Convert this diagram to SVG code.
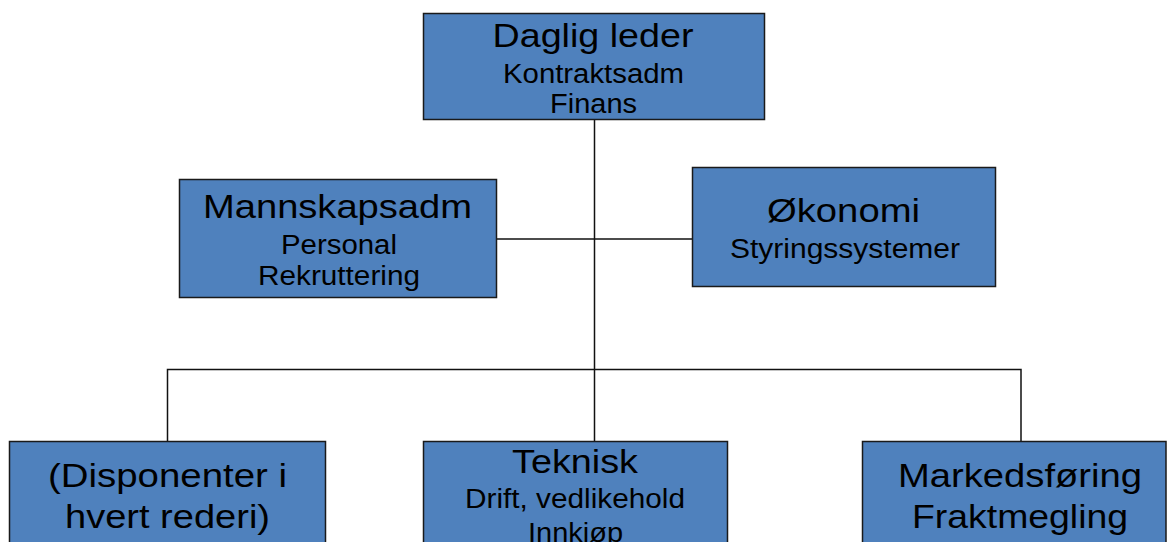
<svg xmlns="http://www.w3.org/2000/svg" width="1167" height="542" viewBox="0 0 1167 542">
<style>
.box{fill:#4F81BD;stroke:#1a1a1a;stroke-width:1.5}
.ln{fill:none;stroke:#111;stroke-width:1.5}
text{font-family:"Liberation Sans",Arial,sans-serif;fill:#000;text-anchor:middle}
.big{font-size:34px}
.sm{font-size:27px}
</style>
<rect width="1167" height="542" fill="#fff"/>
<g id="connectors">
<line class="ln" x1="594.5" y1="119" x2="594.5" y2="441"/>
<line class="ln" x1="497" y1="239" x2="692" y2="239"/>
<polyline class="ln" points="167.5,441 167.5,369.5 1021,369.5 1021,441"/>
</g>
<g id="daglig-leder">
<rect class="box" x="423.5" y="13.5" width="341" height="106"/>
<text class="big" x="593" y="46.5" textLength="201" lengthAdjust="spacingAndGlyphs">Daglig leder</text>
<text class="sm" x="593.5" y="83" textLength="181" lengthAdjust="spacingAndGlyphs">Kontraktsadm</text>
<text class="sm" x="593.5" y="113" textLength="87" lengthAdjust="spacingAndGlyphs">Finans</text>
</g>
<g id="mannskapsadm">
<rect class="box" x="179.5" y="179.5" width="317" height="118"/>
<text class="big" x="337.5" y="218" textLength="269" lengthAdjust="spacingAndGlyphs">Mannskapsadm</text>
<text class="sm" x="339" y="254" textLength="116" lengthAdjust="spacingAndGlyphs">Personal</text>
<text class="sm" x="339" y="285" textLength="162" lengthAdjust="spacingAndGlyphs">Rekruttering</text>
</g>
<g id="okonomi">
<rect class="box" x="692.5" y="167.5" width="303" height="119"/>
<text class="big" x="843.5" y="222" textLength="153" lengthAdjust="spacingAndGlyphs">Økonomi</text>
<text class="sm" x="845" y="258" textLength="230" lengthAdjust="spacingAndGlyphs">Styringssystemer</text>
</g>
<g id="disponenter">
<rect class="box" x="9.5" y="441.5" width="316" height="130"/>
<text class="big" x="167.5" y="487" textLength="239" lengthAdjust="spacingAndGlyphs">(Disponenter i</text>
<text class="big" x="167.5" y="528" textLength="205" lengthAdjust="spacingAndGlyphs">hvert rederi)</text>
</g>
<g id="teknisk">
<rect class="box" x="423.5" y="441.5" width="304" height="130"/>
<text class="big" x="575" y="473" textLength="126" lengthAdjust="spacingAndGlyphs">Teknisk</text>
<text class="sm" x="575" y="508" textLength="220" lengthAdjust="spacingAndGlyphs">Drift, vedlikehold</text>
<text class="sm" x="575.5" y="542" textLength="95" lengthAdjust="spacingAndGlyphs">Innkjøp</text>
</g>
<g id="markedsforing">
<rect class="box" x="862.5" y="441.5" width="303.5" height="130"/>
<text class="big" x="1020" y="487" textLength="244" lengthAdjust="spacingAndGlyphs">Markedsføring</text>
<text class="big" x="1020" y="528" textLength="216" lengthAdjust="spacingAndGlyphs">Fraktmegling</text>
</g>
</svg>
